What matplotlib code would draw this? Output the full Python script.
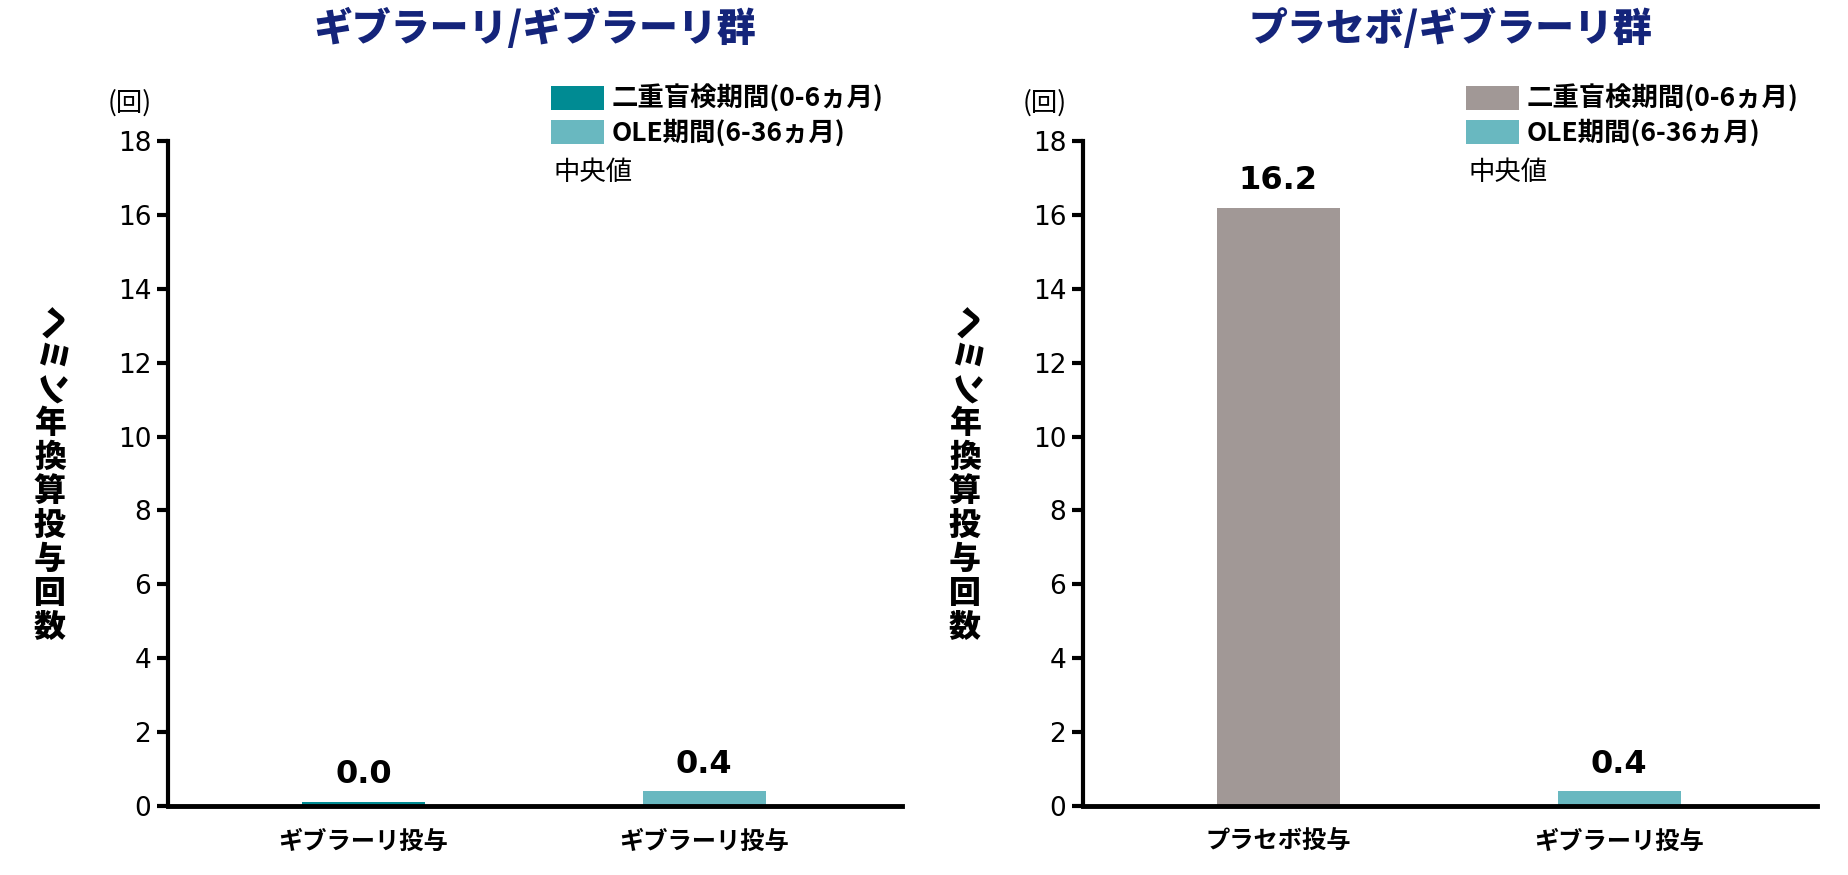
import matplotlib
matplotlib.use('Agg')
import numpy as np
import matplotlib.pyplot as plt
from matplotlib.patches import Patch

plt.rcParams['font.family'] = ['Noto Sans CJK JP', 'DejaVu Sans']

# data
titles = ['ギブラーリ/ギブラーリ群', 'プラセボ/ギブラーリ群']
categories_left = ['ギブラーリ投与', 'ギブラーリ投与']
categories_right = ['プラセボ投与', 'ギブラーリ投与']
values_left = [0.0, 0.4]
values_right = [16.2, 0.4]
legend_labels = ['二重盲検期間(0-6ヵ月)', 'OLE期間(6-36ヵ月)']
yticks = [0, 2, 4, 6, 8, 10, 12, 14, 16, 18]

teal_dark = '#008B93'
teal_light = '#69B8C0'
grey = '#A19896'
navy = '#14247A'

W, H = 1849, 875
fig = plt.figure(figsize=(W / 100, H / 100), dpi=100)

def fx(px):
    return px / W

def fy(py):
    return 1 - py / H

panels = [
    (168, titles[0], categories_left, values_left, [teal_dark, teal_light]),
    (1083, titles[1], categories_right, values_right, [grey, teal_light]),
]

for left, title, cats, vals, cols in panels:
    ax = fig.add_axes([fx(left), fy(806), fx(734), fy(141) - fy(806)])
    x = np.arange(len(cats))
    shown = np.maximum(vals, 0.12)  # keep the zero bar visible as a thin strip
    ax.bar(x, shown, width=0.36, color=cols, zorder=2)
    for xi, v, h in zip(x, vals, shown):
        ax.text(xi, h + 0.3, f'{v:.1f}', ha='center', va='bottom',
                fontsize=23, fontweight='bold', family='DejaVu Sans')
    ax.set_xlim(-0.573, 1.58)
    ax.set_ylim(0, 18)
    ax.set_yticks(yticks)
    ax.set_yticklabels([str(t) for t in yticks], family='DejaVu Sans', fontsize=19)
    ax.set_xticks(x)
    ax.set_xticklabels(cats, fontsize=17.5, fontweight='bold')
    ax.tick_params(axis='x', length=0, pad=17)
    ax.tick_params(axis='y', length=8, width=3, direction='out', pad=4)
    for s in ['top', 'right']:
        ax.spines[s].set_visible(False)
    ax.spines['left'].set_linewidth(3)
    ax.spines['bottom'].set_linewidth(3.5)

    # title
    fig.text(fx(left + 367), fy(28), title, ha='center', va='center',
             fontsize=28, fontweight='heavy', color=navy)
    # unit
    fig.text(fx(left - 38), fy(103), '(回)', ha='center', va='center', fontsize=19)
    # legend
    handles = [Patch(facecolor=c) for c in cols]
    ax.legend(handles, legend_labels, loc='upper left',
              bbox_to_anchor=(fx(left + 383), fy(85)), bbox_transform=fig.transFigure,
              frameon=False, handlelength=2.0, handleheight=1.0, handletextpad=0.3,
              labelspacing=0.25, borderaxespad=0, borderpad=0,
              prop={'size': 19, 'weight': 'bold'})
    fig.text(fx(left + 385), fy(172), '中央値', ha='left', va='center', fontsize=19)

    # vertical y label
    cx = fx(left - 118)
    fig.text(cx, fy(356), 'ヘミン', rotation=-90, ha='center', va='center',
             fontsize=24, fontweight='heavy')
    kanji = '年換算投与回数'
    for i, ch in enumerate(kanji):
        fig.text(cx, fy(423 + i * 34), ch, ha='center', va='center',
                 fontsize=23, fontweight='heavy')

fig.savefig('out.png', dpi=100)
